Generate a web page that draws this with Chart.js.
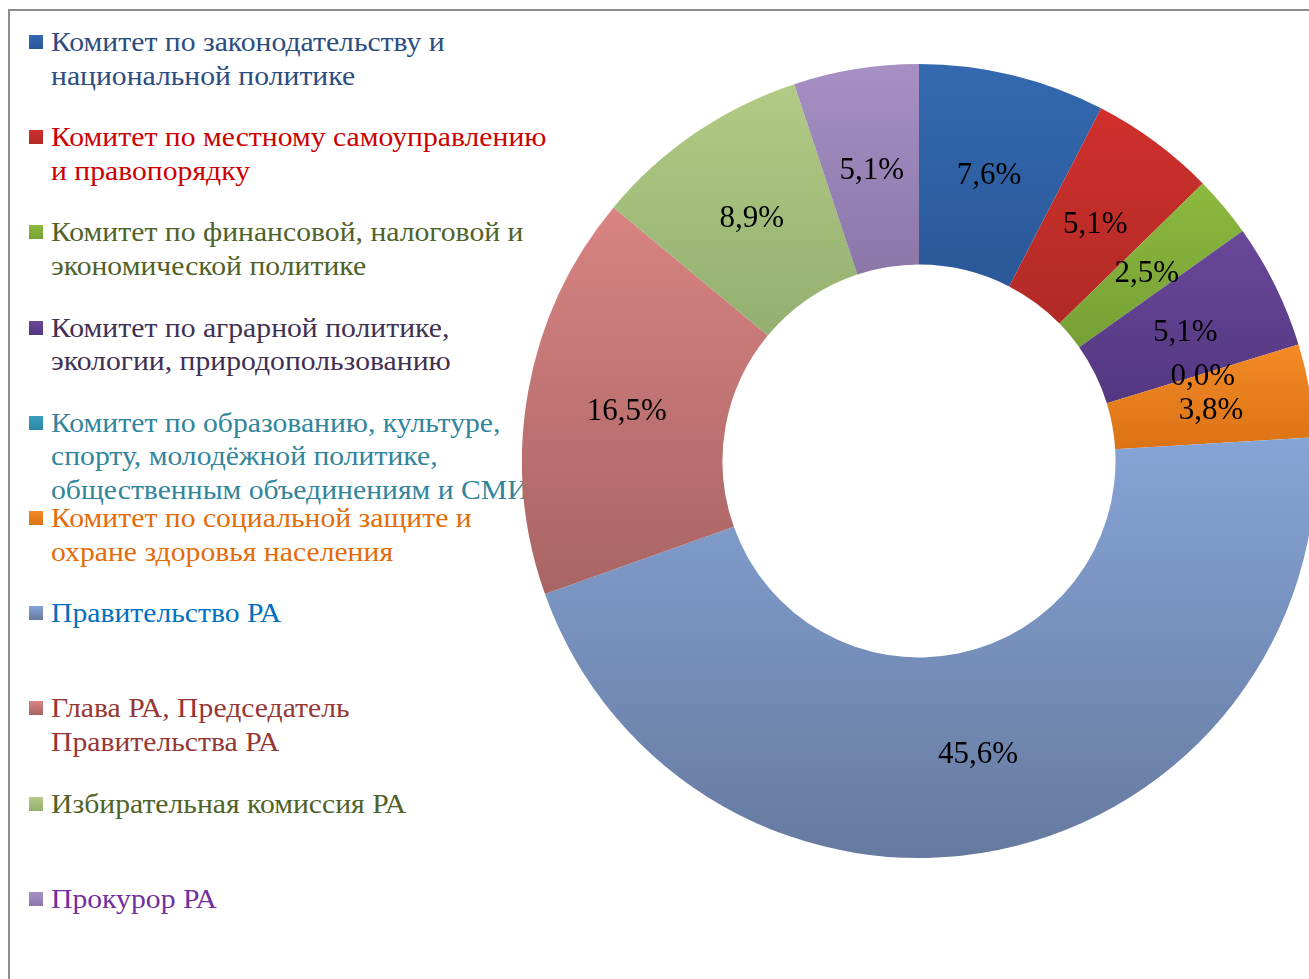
<!DOCTYPE html>
<html lang="ru">
<head>
<meta charset="utf-8">
<script src="https://cdn.jsdelivr.net/npm/chart.js@4.4.1/dist/chart.umd.min.js"></script>
<style>
  html, body { margin:0; padding:0; background:#fff; width:1309px; height:979px; overflow:hidden; }
  #frame { position:absolute; left:8px; top:9px; width:1400px; height:1100px; border-left:2px solid #8c8c8c; border-top:2px solid #8c8c8c; }
  #chartWrap { position:absolute; left:522px; top:64px; width:794px; height:794px; }
  #legend { position:absolute; left:0; top:0; }
  .item { position:absolute; left:29px; font-family:"Liberation Serif","Times New Roman",serif; font-size:28px; line-height:33.5px; white-space:nowrap; }
  .sw { position:absolute; left:0; top:10px; width:14px; height:14px; }
  .txt { position:absolute; left:22px; top:0; transform:scaleX(1.06); transform-origin:0 0; }
</style>
</head>
<body>
<div id="frame"></div>
<div id="legend"></div>
<div id="chartWrap"><canvas id="c" width="794" height="794"></canvas></div>
<script>
const categories = [
  "Комитет по законодательству и|национальной политике",
  "Комитет по местному самоуправлению|и правопорядку",
  "Комитет по финансовой, налоговой и|экономической  политике",
  "Комитет  по аграрной политике,|экологии, природопользованию",
  "Комитет по образованию, культуре,|спорту, молодёжной  политике,|общественным  объединениям и СМИ",
  "Комитет по социальной защите и|охране здоровья  населения",
  "Правительство РА",
  "Глава РА, Председатель|Правительства РА",
  "Избирательная комиссия РА",
  "Прокурор РА"
];
const values = [7.6, 5.1, 2.5, 5.1, 0.0, 3.8, 45.6, 16.5, 8.9, 5.1];
const valueLabels = ["7,6%", "5,1%", "2,5%", "5,1%", "0,0%", "3,8%", "45,6%", "16,5%", "8,9%", "5,1%"];
const sliceLight = ["#3469b0", "#d0302c", "#8cb93e", "#6a489a", "#3a9fbb", "#f28a26", "#86a4d6", "#d88482", "#b2cb85", "#a690c4"];
const sliceDark  = ["#2a5898", "#b02a26", "#76a036", "#533680", "#2d87a1", "#db7316", "#667a9f", "#a86463", "#93b070", "#8a77a8"];
const textColors = ["#2c4d7f", "#cc0000", "#4f6228", "#403152", "#31859c", "#e36c09", "#0070c0", "#953735", "#4f6228", "#7030a0"];

// legend (HTML text)
const legend = document.getElementById('legend');
categories.forEach((c, i) => {
  const d = document.createElement('div');
  d.className = 'item';
  d.style.top = (25 + i * 95.2) + 'px';
  const sw = document.createElement('div');
  sw.className = 'sw';
  sw.style.background = `linear-gradient(${sliceLight[i]}, ${sliceDark[i]})`;
  const t = document.createElement('div');
  t.className = 'txt';
  t.style.color = textColors[i];
  t.innerHTML = c.split('|').join('<br>');
  d.appendChild(sw); d.appendChild(t);
  legend.appendChild(d);
});

const CUT = 0.495;
const total = values.reduce((a, b) => a + b, 0);

function sliceGradient(ctx) {
  const chart = ctx.chart;
  const area = chart.chartArea;
  const i = ctx.dataIndex;
  if (!area) return sliceLight[i];
  const cx = (area.left + area.right) / 2, cy = (area.top + area.bottom) / 2;
  const R = Math.min(area.right - area.left, area.bottom - area.top) / 2;
  const r = R * CUT;
  let cum = 0;
  for (let k = 0; k < i; k++) cum += values[k];
  const a0 = -Math.PI / 2 + cum / total * 2 * Math.PI;
  const a1 = a0 + values[i] / total * 2 * Math.PI;
  let ymin = Infinity, ymax = -Infinity;
  const N = 40;
  for (let s = 0; s <= N; s++) {
    const a = a0 + (a1 - a0) * s / N;
    for (const rr of [r, R]) {
      const y = cy + rr * Math.sin(a);
      ymin = Math.min(ymin, y); ymax = Math.max(ymax, y);
    }
  }
  if (!(ymax > ymin)) { ymin = area.top; ymax = area.bottom; }
  const g = chart.ctx.createLinearGradient(0, ymin, 0, ymax);
  g.addColorStop(0, sliceLight[i]);
  g.addColorStop(1, sliceDark[i]);
  return g;
}

const labelPlugin = {
  id: 'sliceLabels',
  afterDatasetsDraw(chart) {
    const ctx = chart.ctx;
    const meta = chart.getDatasetMeta(0);
    ctx.save();
    ctx.fillStyle = '#000';
    ctx.textAlign = 'center';
    ctx.textBaseline = 'middle';
    ctx.font = '31px "Liberation Serif", "Times New Roman", serif';
    meta.data.forEach((arc, i) => {
      const p = arc.tooltipPosition();
      ctx.fillText(valueLabels[i], p.x, p.y + 3);
    });
    ctx.restore();
  }
};

new Chart(document.getElementById('c'), {
  type: 'doughnut',
  data: {
    labels: categories.map(c => c.replace(/\|/g, ' ')),
    datasets: [{
      data: values,
      backgroundColor: sliceGradient,
      borderWidth: 0
    }]
  },
  options: {
    responsive: false,
    animation: false,
    cutout: (CUT * 100) + '%',
    layout: { padding: 0 },
    plugins: { legend: { display: false }, tooltip: { enabled: false } }
  },
  plugins: [labelPlugin]
});
</script>
</body>
</html>
